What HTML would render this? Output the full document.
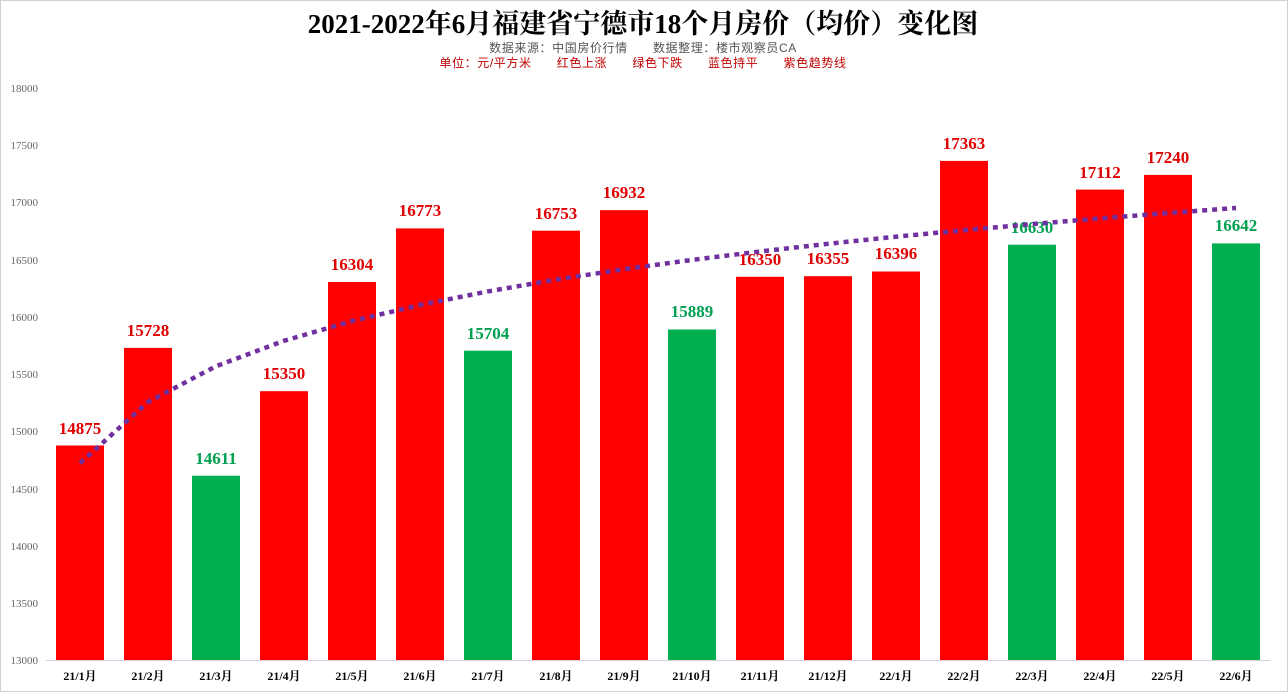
<!DOCTYPE html>
<html><head><meta charset="utf-8"><style>
html,body{margin:0;padding:0;background:#fff}
</style></head><body>
<svg width="1288" height="692" xmlns="http://www.w3.org/2000/svg" style="display:block">
<rect x="0.5" y="0.5" width="1287" height="691" fill="#fff" stroke="#d0d0d0"/>
<text x="643" y="33" text-anchor="middle" font-family="Liberation Serif, Noto Serif CJK SC, serif" font-weight="bold" font-size="27">2021-2022年6月福建省宁德市18个月房价（均价）变化图</text>
<text x="643" y="52" text-anchor="middle" font-family="Liberation Sans, Noto Sans CJK SC, sans-serif" font-size="12" letter-spacing="0.6" fill="#555">数据来源：中国房价行情　　数据整理：楼市观察员CA</text>
<text x="643" y="67" text-anchor="middle" font-family="Liberation Sans, Noto Sans CJK SC, sans-serif" font-size="12" letter-spacing="0.6" fill="#c00000">单位：元/平方米　　红色上涨　　绿色下跌　　蓝色持平　　紫色趋势线</text>
<g font-family="Liberation Serif, serif" font-size="11" fill="#666" text-anchor="end">
<text x="38" y="92">18000</text><text x="38" y="149">17500</text><text x="38" y="206">17000</text><text x="38" y="264">16500</text><text x="38" y="321">16000</text><text x="38" y="378">15500</text><text x="38" y="435">15000</text><text x="38" y="493">14500</text><text x="38" y="550">14000</text><text x="38" y="607">13500</text><text x="38" y="664">13000</text>
</g>
<line x1="46" y1="660.5" x2="1270" y2="660.5" stroke="#d9c8e0"/>
<g>
<rect x="56" y="445.5" width="48" height="214.5" fill="#f00"/>
<rect x="124" y="347.9" width="48" height="312.1" fill="#f00"/>
<rect x="192" y="475.7" width="48" height="184.3" fill="#00b050"/>
<rect x="260" y="391.2" width="48" height="268.8" fill="#f00"/>
<rect x="328" y="282" width="48" height="378" fill="#f00"/>
<rect x="396" y="228.4" width="48" height="431.6" fill="#f00"/>
<rect x="464" y="350.7" width="48" height="309.3" fill="#00b050"/>
<rect x="532" y="230.7" width="48" height="429.3" fill="#f00"/>
<rect x="600" y="210.2" width="48" height="449.8" fill="#f00"/>
<rect x="668" y="329.5" width="48" height="330.5" fill="#00b050"/>
<rect x="736" y="276.8" width="48" height="383.2" fill="#f00"/>
<rect x="804" y="276.2" width="48" height="383.8" fill="#f00"/>
<rect x="872" y="271.5" width="48" height="388.5" fill="#f00"/>
<rect x="940" y="160.9" width="48" height="499.1" fill="#f00"/>
<rect x="1008" y="244.7" width="48" height="415.3" fill="#00b050"/>
<rect x="1076" y="189.6" width="48" height="470.4" fill="#f00"/>
<rect x="1144" y="174.9" width="48" height="485.1" fill="#f00"/>
<rect x="1212" y="243.4" width="48" height="416.6" fill="#00b050"/>
</g>
<g font-family="Liberation Serif, serif" font-weight="bold" font-size="17" text-anchor="middle">
<text x="80" y="434" fill="#e00000">14875</text>
<text x="148" y="336" fill="#e00000">15728</text>
<text x="216" y="464" fill="#00a050">14611</text>
<text x="284" y="379" fill="#e00000">15350</text>
<text x="352" y="270" fill="#e00000">16304</text>
<text x="420" y="216" fill="#e00000">16773</text>
<text x="488" y="339" fill="#00a050">15704</text>
<text x="556" y="219" fill="#e00000">16753</text>
<text x="624" y="198" fill="#e00000">16932</text>
<text x="692" y="317" fill="#00a050">15889</text>
<text x="760" y="265" fill="#e00000">16350</text>
<text x="828" y="264" fill="#e00000">16355</text>
<text x="896" y="259" fill="#e00000">16396</text>
<text x="964" y="149" fill="#e00000">17363</text>
<text x="1032" y="233" fill="#00a050">16630</text>
<text x="1100" y="178" fill="#e00000">17112</text>
<text x="1168" y="163" fill="#e00000">17240</text>
<text x="1236" y="231" fill="#00a050">16642</text>
</g>
<polyline fill="none" stroke="#7030a0" stroke-width="4.5" stroke-dasharray="5 5" points="80,463.2 148,402 216,366.2 284,340.8 352,321.1 420,305 488,291.4 556,279.6 624,269.2 692,259.9 760,251.5 828,243.8 896,236.7 964,230.2 1032,224.1 1100,218.4 1168,213 1236,208"/>
<g font-family="Liberation Serif, Noto Serif CJK SC, serif" font-weight="bold" font-size="12" text-anchor="middle">
<text x="80" y="680">21/1月</text><text x="148" y="680">21/2月</text><text x="216" y="680">21/3月</text><text x="284" y="680">21/4月</text><text x="352" y="680">21/5月</text><text x="420" y="680">21/6月</text><text x="488" y="680">21/7月</text><text x="556" y="680">21/8月</text><text x="624" y="680">21/9月</text><text x="692" y="680">21/10月</text><text x="760" y="680">21/11月</text><text x="828" y="680">21/12月</text><text x="896" y="680">22/1月</text><text x="964" y="680">22/2月</text><text x="1032" y="680">22/3月</text><text x="1100" y="680">22/4月</text><text x="1168" y="680">22/5月</text><text x="1236" y="680">22/6月</text>
</g>
</svg>
</body></html>
